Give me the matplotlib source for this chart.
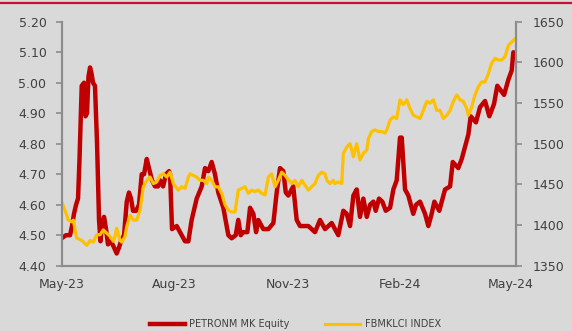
import matplotlib
matplotlib.use("Agg")
import matplotlib.pyplot as plt
import matplotlib.dates as mdates
from matplotlib.lines import Line2D
import pandas as pd

# days after 2023-05-01
red_days = [0, 3.5, 6.8, 8.4, 10.0, 11.7, 13.3, 14.5, 16.3, 18.2, 19.4, 20.6, 21.8, 23.1, 24.3,
            25.5, 27.1, 28.8, 30.4, 31.6, 32.8, 34.5, 36.1, 37.7, 40.2, 42.6, 44.8, 46.7, 48.3,
            50.8, 53.0, 54.8, 56.5, 58.1, 60.6, 63.0, 65.2, 67.1, 69.3, 71.1, 73.6, 76.0, 78.5,
            80.1, 82.6, 85.0, 87.5, 88.3, 89.9, 93.7, 97.8, 100.5, 103.2, 105.9, 110.0, 114.1,
            116.8, 119.5, 122.2, 124.9, 127.6, 131.7, 135.8, 138.5, 141.8, 143.9, 145.9, 148.0,
            151.3, 153.5, 156.2, 158.4, 160.2, 164.3, 168.4, 172.5, 175.2, 177.9, 180.6, 182.6,
            184.7, 188.7, 191.5, 194.2, 201.0, 206.4, 210.5, 214.6, 220.0, 225.4, 229.5, 232.3,
            235.0, 237.7, 240.4, 243.1, 245.8, 248.6, 251.3, 254.0, 255.9, 258.6, 261.3, 264.1,
            267.6, 270.3, 273.0, 275.7, 277.1, 279.8, 282.5, 286.5, 288.8, 292.0, 296.1, 298.8,
            301.5, 303.7, 307.7, 312.4, 316.5, 318.7, 323.2, 326.0, 328.7, 331.4, 333.3, 337.6,
            340.9, 345.0, 348.5, 352.3, 355.0, 360.5, 364.0, 366.7, 368.1, 369.4]
petronm = [4.49, 4.50, 4.50, 4.53, 4.57, 4.60, 4.62, 4.75, 4.99, 5.00, 4.89, 4.90, 5.02, 5.05, 5.03,
           5.00, 4.99, 4.80, 4.55, 4.48, 4.54, 4.56, 4.52, 4.47, 4.48, 4.46, 4.44, 4.46, 4.48,
           4.50, 4.61, 4.64, 4.62, 4.58, 4.58, 4.60, 4.70, 4.70, 4.75, 4.72, 4.68, 4.66, 4.66,
           4.68, 4.66, 4.70, 4.71, 4.70, 4.52, 4.53, 4.50, 4.48, 4.48, 4.55, 4.62, 4.66,
           4.72, 4.71, 4.74, 4.70, 4.64, 4.59, 4.50, 4.49, 4.50, 4.55, 4.50, 4.51,
           4.51, 4.59, 4.57, 4.51, 4.55, 4.52, 4.52, 4.54, 4.64, 4.72, 4.71, 4.64,
           4.63, 4.66, 4.55, 4.53, 4.53, 4.51, 4.55, 4.52, 4.54, 4.50, 4.58, 4.57,
           4.53, 4.63, 4.65, 4.56, 4.62, 4.56, 4.60, 4.61, 4.58, 4.62, 4.61, 4.58,
           4.59, 4.65, 4.68, 4.82, 4.82, 4.65, 4.63, 4.57, 4.60, 4.61, 4.57, 4.53,
           4.57, 4.61, 4.58, 4.65, 4.66, 4.74, 4.72, 4.75, 4.79, 4.83, 4.89, 4.87,
           4.92, 4.94, 4.89, 4.93, 4.99, 4.96, 5.01, 5.04, 5.10, 5.09]

klci_days = [0, 2.7, 5.4, 8.1, 9.5, 12.2, 16.3, 20.4, 23.1, 25.8, 28.5, 31.2, 33.9, 36.7, 39.4,
             42.1, 43.4, 44.8, 47.5, 48.9, 51.6, 53.0, 55.7, 58.4, 61.1, 63.8, 66.5, 69.3, 72.0,
             74.7, 77.4, 80.1, 82.8, 85.6, 88.3, 91.0, 95.0, 97.8, 100.5, 103.2, 104.6, 107.3,
             110.0, 112.7, 115.4, 118.2, 119.5, 122.2, 124.9, 127.6, 130.4, 133.1, 135.8, 138.5,
             141.2, 143.9, 146.7, 149.4, 152.1, 154.8, 157.5, 160.2, 163.0, 165.7, 168.4, 171.1,
             173.8, 176.5, 179.3, 182.0, 187.4, 190.1, 192.8, 195.6, 198.3, 201.0, 203.7, 206.4,
             209.1, 211.9, 214.6, 216.0, 218.7, 221.3, 222.7, 225.4, 228.2, 229.5, 232.3, 235.0,
             237.7, 240.4, 243.1, 245.8, 248.6, 249.9, 252.6, 255.3, 258.0, 260.8, 263.5, 264.9,
             267.6, 270.3, 273.0, 275.7, 278.4, 281.2, 283.9, 286.6, 289.3, 292.0, 294.7, 297.5,
             300.2, 302.9, 305.6, 308.3, 311.0, 313.8, 316.5, 319.2, 321.9, 324.6, 327.3, 330.1,
             331.4, 334.1, 336.8, 339.5, 342.3, 345.0, 347.7, 350.4, 353.1, 355.8, 358.6, 361.3,
             364.0, 366.7, 369.4]
klci = [1429, 1418, 1406, 1404, 1406, 1384, 1381, 1375, 1381, 1379, 1388, 1388, 1394, 1390, 1386,
        1380, 1386, 1396, 1381, 1379, 1386, 1398, 1412, 1406, 1406, 1418, 1447, 1455, 1459,
        1451, 1453, 1461, 1463, 1459, 1465, 1451, 1443, 1447, 1445, 1459, 1463, 1461,
        1459, 1455, 1455, 1451, 1459, 1455, 1447, 1447, 1439, 1425, 1418, 1416,
        1416, 1443, 1445, 1447, 1439, 1443, 1441, 1443, 1439, 1437, 1459, 1463,
        1447, 1455, 1465, 1461, 1451, 1455, 1447, 1455, 1449, 1443, 1447, 1451,
        1461, 1465, 1463, 1455, 1451, 1455, 1451, 1453, 1451, 1488, 1496, 1500,
        1484, 1500, 1480, 1488, 1492, 1506, 1515, 1517, 1515, 1515, 1513, 1517,
        1529, 1533, 1531, 1554, 1548, 1554, 1543, 1535, 1533, 1531, 1541, 1552,
        1550, 1554, 1541, 1541, 1531, 1535, 1541, 1552, 1560, 1554, 1552, 1543,
        1535, 1545, 1560, 1570, 1576, 1576, 1586, 1599, 1605, 1603, 1603, 1607,
        1621, 1625, 1629]

left_ticks = [4.40, 4.50, 4.60, 4.70, 4.80, 4.90, 5.00, 5.10, 5.20]
right_ticks = [1350, 1400, 1450, 1500, 1550, 1600, 1650]

start = pd.Timestamp("2023-05-01")
red_dates = start + pd.to_timedelta(red_days, unit="D")
klci_dates = start + pd.to_timedelta(klci_days, unit="D")

bg = "#d9d9d9"
txt = "#404040"
spine = "#8c8c8c"

fig = plt.figure(figsize=(5.72, 3.31), dpi=100, facecolor=bg)
ax = fig.add_axes([0.1079, 0.1973, 0.7937, 0.7371], facecolor=bg)
ax2 = ax.twinx()

l1, = ax.plot(red_dates, petronm, color="#c00000", lw=3.2, solid_joinstyle="round")
l2, = ax2.plot(klci_dates, klci, color="#ffc000", lw=2.3, solid_joinstyle="round")

ax.set_ylim(4.40, 5.20)
ax.set_yticks(left_ticks)
ax.set_yticklabels(["%.2f" % v for v in left_ticks])
ax2.set_ylim(1350, 1650)
ax2.set_yticks(right_ticks)

ax.set_xlim(pd.Timestamp("2023-05-01"), pd.Timestamp("2024-05-05"))
ax.xaxis.set_major_locator(mdates.MonthLocator(bymonth=[2, 5, 8, 11]))
ax.xaxis.set_major_formatter(mdates.DateFormatter("%b-%y"))

for a in (ax, ax2):
    for s in a.spines.values():
        s.set_color(spine)
        s.set_linewidth(1.5)
    a.spines["top"].set_visible(False)
    a.tick_params(colors=spine, labelcolor=txt, labelsize=9)

ax.tick_params(axis="y", length=4, width=1.2, pad=7)
ax.tick_params(axis="x", length=0, pad=9)
ax2.tick_params(axis="y", length=4, width=1.2, pad=8)

fig.add_artist(Line2D([0, 1], [0.990, 0.990], transform=fig.transFigure,
                      color="#c8102e", lw=1.6))

fig.legend([l1, l2], ["PETRONM MK Equity", "FBMKLCI INDEX"], loc="center",
           bbox_to_anchor=(0.516, 0.021), ncol=2, frameon=False, fontsize=7,
           labelcolor=txt, handlelength=3.6, handletextpad=0.5, columnspacing=3.6)

fig.savefig("out.png", dpi=100, facecolor=bg)
